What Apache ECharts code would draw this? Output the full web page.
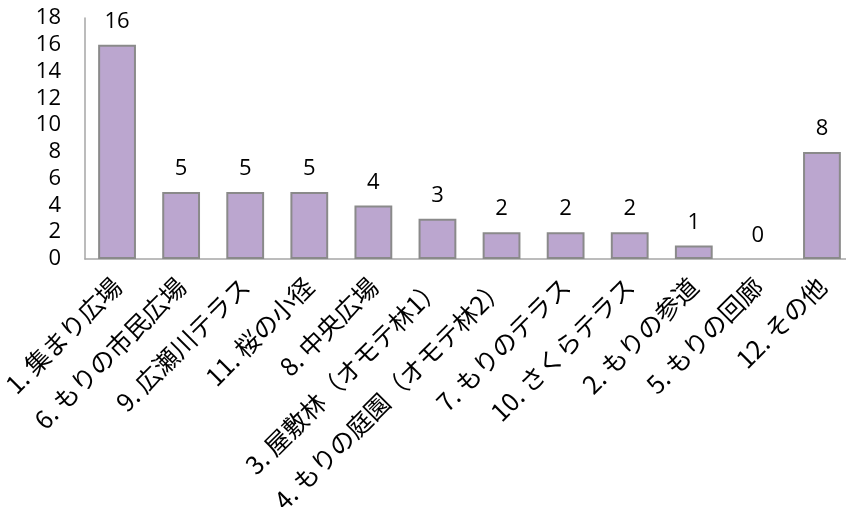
<!DOCTYPE html>
<html>
<head>
<meta charset="utf-8">
<script src="https://cdn.jsdelivr.net/npm/echarts@6/dist/echarts.min.js"></script>
<style>
  html, body { margin: 0; padding: 0; background: #ffffff; }
  #chart { width: 846px; height: 507px; }
</style>
</head>
<body>
<div id="chart"></div>
<script>
// Visitor counts by place
const categories = [
  '1. 集まり広場',
  '6. もりの市民広場',
  '9. 広瀬川テラス',
  '11. 桜の小径',
  '8. 中央広場',
  '3. 屋敷林（オモテ林1）',
  '4. もりの庭園（オモテ林2）',
  '7. もりのテラス',
  '10. さくらテラス',
  '2. もりの参道',
  '5. もりの回廊',
  '12. その他'
];
const counts = [16, 5, 5, 5, 4, 3, 2, 2, 2, 1, 0, 8];

const yMin = 0;
const yMax = 18;
const yStep = 2;

// an empty bar gets no outline so nothing shows on the axis
const barData = counts.map(v => v === 0 ? { value: v, itemStyle: { borderWidth: 0 } } : v);

const chart = echarts.init(document.getElementById('chart'));
chart.setOption({
  animation: false,
  grid: {
    left: 85, top: 18, bottom: 248, width: 769,
    containLabel: false,
    outerBoundsMode: 'none'
  },
  xAxis: {
    type: 'category',
    data: categories,
    axisLine: { show: true, lineStyle: { color: '#a6a6a6', width: 1.5 } },
    axisTick: { show: false },
    axisLabel: {
      interval: 0,
      rotate: 45,
      margin: 23,
      fontSize: 25,
      color: '#000000',
      fontFamily: '"Noto Sans CJK JP", sans-serif'
    }
  },
  yAxis: {
    type: 'value',
    min: yMin,
    max: yMax,
    interval: yStep,
    splitLine: { show: false },
    axisLine: { show: true, lineStyle: { color: '#a6a6a6', width: 1.5 } },
    axisTick: { show: false },
    axisLabel: {
      margin: 24,
      fontSize: 22,
      padding: [6, 0, 0, 0],
      color: '#000000',
      fontFamily: '"Open Sans", sans-serif'
    }
  },
  series: [{
    type: 'bar',
    data: barData,
    barWidth: '59%',
    itemStyle: { color: '#bba6cf', borderColor: '#8a8a8a', borderWidth: 2 },
    label: {
      show: true,
      position: 'top',
      distance: 12,
      fontSize: 22,
      color: '#000000',
      fontFamily: '"Open Sans", sans-serif'
    }
  }]
});
</script>
</body>
</html>
